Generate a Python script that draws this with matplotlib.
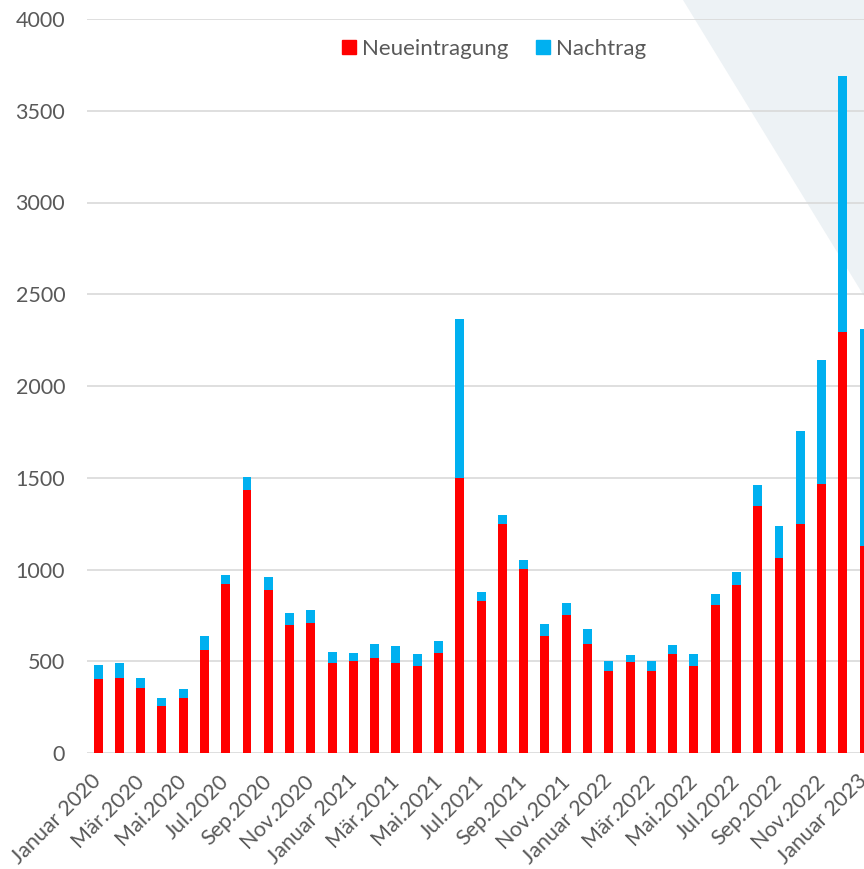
import matplotlib.pyplot as plt
from matplotlib.patches import Polygon, Patch
import numpy as np

# monthly values, Jan 2020 .. Jan 2023
month_names = ["Januar", "Feb.", "Mär.", "Apr.", "Mai.", "Jun.",
               "Jul.", "Aug.", "Sep.", "Okt.", "Nov.", "Dez."]
years = [2020, 2021, 2022, 2023]
neueintragung = [401, 410, 356, 258, 301, 563, 923, 1433, 890, 699,
                 710, 490, 501, 519, 489, 472, 543, 1499, 828, 1248,
                 1004, 639, 752, 595, 445, 494, 445, 541, 476, 808,
                 916, 1348, 1064, 1250, 1468, 2293, 1130]
nachtrag = [79, 79, 51, 42, 48, 76, 45, 69, 67, 64,
            71, 62, 44, 73, 92, 66, 66, 866, 48, 49,
            48, 62, 64, 81, 56, 38, 55, 48, 64, 57,
            69, 113, 171, 505, 674, 1398, 1179]

labels = []
for y in years:
    for m in month_names:
        labels.append(f"{m} {y}" if m == "Januar" else f"{m}{y}")
labels = labels[:len(neueintragung)]

plt.rcParams['font.family'] = ['Lato', 'DejaVu Sans']
RED = '#FF0000'
BLUE = '#00B0F0'
GREY = '#595959'

fig = plt.figure(figsize=(8.64, 8.69), dpi=100)

# light background triangle in the upper right corner
tri = Polygon([(683 / 864, 1), (1.0, 1), (1.0, 1 - 296 / 869)], closed=True,
              transform=fig.transFigure, facecolor='#EDF2F5', edgecolor='none', zorder=-5)
fig.patches.append(tri)

n = len(neueintragung)
ax = fig.add_axes([87.4 / 864, 116 / 869, n * 21.28 / 864, 734 / 869])
ax.set_facecolor('none')

x = np.arange(n)
ax.bar(x, neueintragung, width=0.42, color=RED, zorder=3)
ax.bar(x, nachtrag, width=0.42, bottom=neueintragung, color=BLUE, zorder=3)

ax.set_xlim(-0.5, n - 0.5)
ax.set_ylim(0, 4000)
ax.set_yticks(range(0, 4001, 500))
ax.yaxis.grid(True, color='#D9D9D9', linewidth=1.2, zorder=0)
ax.set_axisbelow(True)
for s in ax.spines.values():
    s.set_visible(False)

ax.set_xticks(x[::2])
ax.set_xticklabels(labels[::2], rotation=45, ha='right', va='center',
                   rotation_mode='anchor')
ax.tick_params(axis='x', length=0, pad=18, labelsize=15.5, labelcolor=GREY)
ax.tick_params(axis='y', length=0, pad=16, labelsize=15.5, labelcolor=GREY)

handles = [Patch(color=RED, label='Neueintragung'), Patch(color=BLUE, label='Nachtrag')]
fig.legend(handles=handles, loc='center', bbox_to_anchor=(494 / 864, 1 - 49 / 869),
           ncol=2, frameon=False, fontsize=16, handlelength=0.63, handleheight=0.63,
           handletextpad=0.28, columnspacing=1.25, labelcolor=GREY)

fig.savefig('out.png', dpi=100)
